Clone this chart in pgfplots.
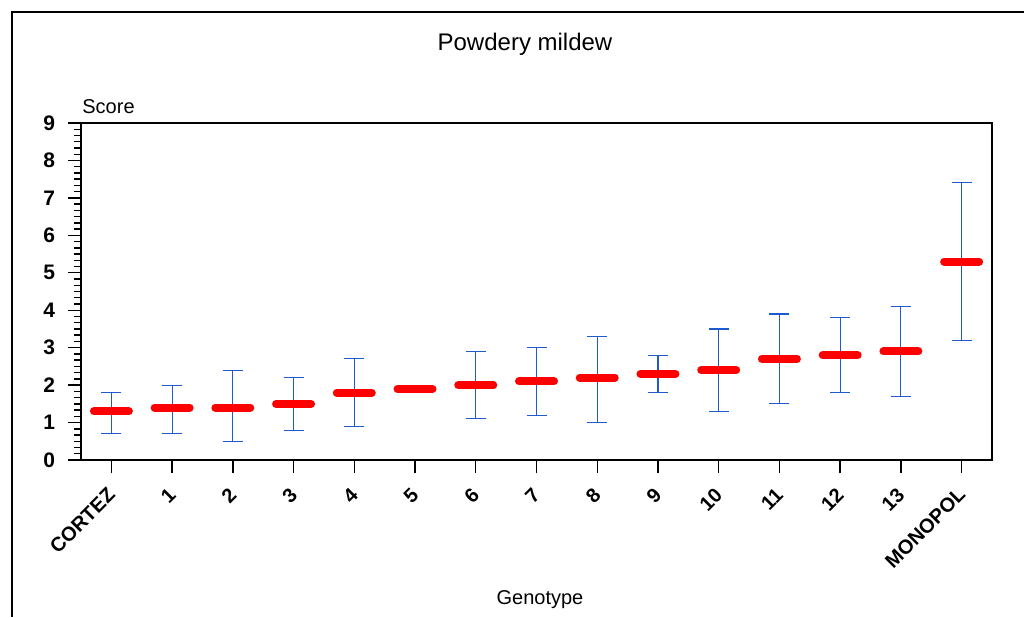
\documentclass[border=0pt]{standalone}
\usepackage{pgfplots}
\pgfplotsset{compat=1.18}
\usepackage{fontspec}
\setmainfont{Liberation Sans}
\definecolor{errblue}{RGB}{30,90,205}
\begin{document}
\begin{tikzpicture}
\useasboundingbox (0,0) rectangle (512pt,308.5pt);
\draw[line width=1pt] (6pt,0) -- (6pt,302.5pt) -- (512pt,302.5pt);
\begin{axis}[
  at={(40.5pt,78.5pt)}, anchor=south west,
  scale only axis, width=455.5pt, height=168.5pt,
  xmin=-0.5, xmax=14.5, ymin=0, ymax=9,
  axis line style={line width=0.8pt},
  xtick={0,...,14},
  xticklabels={CORTEZ,1,2,3,4,5,6,7,8,9,10,11,12,13,MONOPOL},
  ytick={0,...,9},
  minor y tick num=5,
  tick align=outside,
  xtick pos=bottom, ytick pos=left,
  major tick length=6.5pt, minor tick length=3.5pt,
  tick style={black, line width=0.7pt},
  /pgf/number format/assume math mode=true,
  ticklabel style={font=\fontsize{10.5}{12}\selectfont\bfseries},
  xticklabel style={font=\fontsize{10}{12}\selectfont\bfseries, rotate=45, anchor=east, xshift=-3pt, yshift=-6.5pt},
  yticklabel style={xshift=-3pt},
  clip=false,
]
\addplot[draw=none, mark=none, forget plot,
  error bars/.cd, y dir=both, y explicit,
  error mark=|,
  error bar style={errblue, line width=0.55pt},
  error mark options={errblue, line width=0.55pt, mark size=5pt}]
 coordinates {
 (0,1.3) += (0,0.5) -= (0,0.6)
 (1,1.4) += (0,0.6) -= (0,0.7)
 (2,1.4) += (0,1.0) -= (0,0.9)
 (3,1.5) += (0,0.7) -= (0,0.7)
 (4,1.8) += (0,0.9) -= (0,0.9)
 (5,1.9) += (0,0.1) -= (0,0.1)
 (6,2.0) += (0,0.9) -= (0,0.9)
 (7,2.1) += (0,0.9) -= (0,0.9)
 (8,2.2) += (0,1.1) -= (0,1.2)
 (9,2.3) += (0,0.5) -= (0,0.5)
 (10,2.4) += (0,1.1) -= (0,1.1)
 (11,2.7) += (0,1.2) -= (0,1.2)
 (12,2.8) += (0,1.0) -= (0,1.0)
 (13,2.9) += (0,1.2) -= (0,1.2)
 (14,5.3) += (0,2.1) -= (0,2.1)
 };
\addplot[only marks, mark=-, mark size=8.75pt,
  mark options={red, line width=4pt, line cap=round}]
 coordinates {
 (0,1.3) (1,1.4) (2,1.4) (3,1.5) (4,1.8) (5,1.9) (6,2.0) (7,2.1)
 (8,2.2) (9,2.3) (10,2.4) (11,2.7) (12,2.8) (13,2.9) (14,5.3)
 };
\end{axis}
\node[font=\fontsize{12}{14}\selectfont] at (262.5pt,286.5pt) {Powdery mildew};
\node[font=\fontsize{10}{12}\selectfont, anchor=west, inner sep=0pt] at (41pt,255pt) {Score};
\node[font=\fontsize{10}{12}\selectfont] at (270pt,8.5pt) {Genotype};
\end{tikzpicture}
\end{document}
